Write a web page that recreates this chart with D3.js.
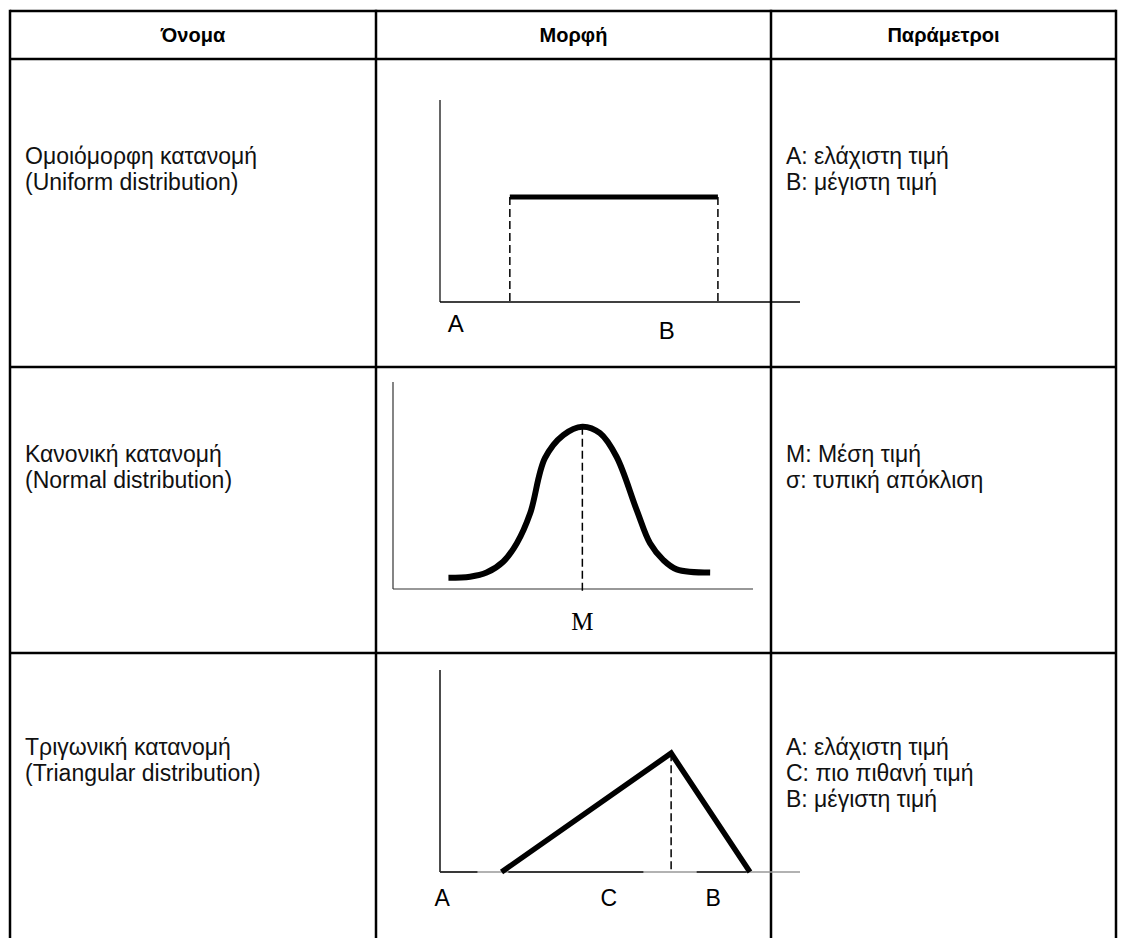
<!DOCTYPE html>
<html>
<head>
<meta charset="utf-8">
<script src="https://cdn.jsdelivr.net/npm/d3@7"></script>
<style>
  body { margin: 0; background: #fff; }
  svg { display: block; font-family: "Liberation Sans", Arial, sans-serif; }
</style>
</head>
<body>
<div id="chart"></div>
<script>
"use strict";

const WIDTH = 1126
const HEIGHT = 938

// table content
const headers = ["Όνομα", "Μορφή", "Παράμετροι"]
const rowNames = [
    ["Ομοιόμορφη κατανομή", "(Uniform distribution)"],
    ["Κανονική κατανομή", "(Normal distribution)"],
    ["Τριγωνική κατανομή", "(Triangular distribution)"],
]
const rowParams = [
    ["A: ελάχιστη τιμή", "B: μέγιστη τιμή"],
    ["M: Μέση τιμή", "σ: τυπική απόκλιση"],
    ["A: ελάχιστη τιμή", "C: πιο πιθανή τιμή", "B: μέγιστη τιμή"],
]

// uniform: [min, max] and density height (x in 0..10, y in 0..1)
const uniformRange = [1.94, 7.72]
const uniformHeight = 0.52
const uniformLabels = [{ t: "A", x: 0.44, dy: 0 }, { t: "B", x: 6.3, dy: 7 }]

// normal curve, points
const normalCurve = [
    [1.54, 0.055], [2.14, 0.06], [2.60, 0.08], [3.06, 0.133], [3.44, 0.223],
    [3.81, 0.369], [4.22, 0.638], [4.73, 0.751], [5.26, 0.792], [5.75, 0.76],
    [6.21, 0.645], [6.77, 0.385], [7.14, 0.223], [7.51, 0.141], [7.88, 0.096],
    [8.81, 0.08],
]
const normalMean = 5.26
const normalLabels = [{ t: "M", x: 5.26 }]

// triangular: A, C (peak) and B
const triangle = [[1.71, 0], [6.42, 0.588], [8.61, 0]]
const triangleAxisDark = [[0, 1.04], [1.90, 5.65], [7.13, 8.52]]
const triangleLabels = [{ t: "A", x: 0.06 }, { t: "C", x: 4.69 }, { t: "B", x: 7.59 }]

// layout
const colX = [10, 376, 771, 1116]
const rowY = [11, 59, 367, 653]

const svg = d3.select("#chart").append("svg")
    .attr("width", WIDTH)
    .attr("height", HEIGHT)
    .attr("viewBox", `0 0 ${WIDTH} ${HEIGHT}`)

svg.append("rect").attr("width", WIDTH).attr("height", HEIGHT).attr("fill", "#fff")

// grid of the table
const grid = svg.append("g").attr("stroke", "#000").attr("stroke-width", 2.5)
colX.forEach(x => {
    grid.append("line").attr("x1", x).attr("x2", x).attr("y1", rowY[0] - 1.25).attr("y2", HEIGHT)
})
rowY.forEach(y => {
    grid.append("line").attr("x1", colX[0]).attr("x2", colX[3]).attr("y1", y).attr("y2", y)
})

// header
svg.append("g").selectAll("text").data(headers).join("text")
    .attr("x", (d, i) => (colX[i] + colX[i + 1]) / 2)
    .attr("y", 42)
    .attr("text-anchor", "middle")
    .attr("font-weight", "bold")
    .attr("font-size", 20)
    .text(d => d)

// text cells
const firstBaseline = [164, 462, 755]
const LINE = 26

function textCell(lines, x, y0) {
    svg.append("g").selectAll("text").data(lines).join("text")
        .attr("x", x)
        .attr("y", (d, i) => y0 + i * LINE)
        .attr("font-size", 23)
        .attr("fill", "#111")
        .text(d => d)
}
rowNames.forEach((r, i) => textCell(r, 25, firstBaseline[i]))
rowParams.forEach((r, i) => textCell(r, 786, firstBaseline[i]))

// small chart panel: x 0..10, y 0..1
function panel(x0, x1, yBottom, yTop) {
    const x = d3.scaleLinear().domain([0, 10]).range([x0, x1])
    const y = d3.scaleLinear().domain([0, 1]).range([yBottom, yTop])
    return { x, y }
}

function dashed(g, x, y0, y1) {
    g.append("line")
        .attr("x1", x).attr("x2", x).attr("y1", y0).attr("y2", y1)
        .attr("stroke", "#000").attr("stroke-width", 1.5)
        .attr("stroke-dasharray", "8,4")
}

function labels(g, data, x, yBase, size, family) {
    g.selectAll("text.lbl").data(data).join("text")
        .attr("class", "lbl")
        .attr("x", d => x(d.x))
        .attr("y", d => yBase + (d.dy || 0))
        .attr("text-anchor", "middle")
        .attr("font-size", size)
        .attr("font-family", family || null)
        .text(d => d.t)
}

// ---- uniform
{
    const { x, y } = panel(440, 800, 302, 100)
    const g = svg.append("g")
    g.append("line").attr("x1", x(0)).attr("x2", x(0)).attr("y1", y(1)).attr("y2", y(0))
        .attr("stroke", "#333").attr("stroke-width", 1.5)
    g.append("line").attr("x1", x(0)).attr("x2", x(10)).attr("y1", y(0)).attr("y2", y(0))
        .attr("stroke", "#000").attr("stroke-width", 1.5)
    uniformRange.forEach(v => dashed(g, x(v), y(uniformHeight), y(0)))
    g.append("line")
        .attr("x1", x(uniformRange[0])).attr("x2", x(uniformRange[1]))
        .attr("y1", y(uniformHeight)).attr("y2", y(uniformHeight))
        .attr("stroke", "#000").attr("stroke-width", 5)
    labels(g, uniformLabels, x, 332, 24)
}

// ---- normal
{
    const { x, y } = panel(393, 753, 589, 384)
    const g = svg.append("g")
    g.append("line").attr("x1", x(0)).attr("x2", x(0)).attr("y1", y(1) - 2).attr("y2", y(0))
        .attr("stroke", "#333").attr("stroke-width", 1.2)
    g.append("line").attr("x1", x(0)).attr("x2", x(10)).attr("y1", y(0)).attr("y2", y(0))
        .attr("stroke", "#333").attr("stroke-width", 1.2)
    dashed(g, x(normalMean), y(0.792), y(0) + 4)
    g.append("path")
        .datum(normalCurve)
        .attr("d", d3.line().x(d => x(d[0])).y(d => y(d[1])).curve(d3.curveCatmullRom.alpha(0.5)))
        .attr("fill", "none")
        .attr("stroke", "#000")
        .attr("stroke-width", 6)
    labels(g, normalLabels, x, 630, 25, "'Liberation Serif', 'Times New Roman', serif")
}

// ---- triangular
{
    const { x, y } = panel(440, 800, 872, 670)
    const g = svg.append("g")
    g.append("line").attr("x1", x(0)).attr("x2", x(0)).attr("y1", y(1)).attr("y2", y(0))
        .attr("stroke", "#111").attr("stroke-width", 1.5)
    g.append("line").attr("x1", x(0)).attr("x2", x(10)).attr("y1", y(0)).attr("y2", y(0))
        .attr("stroke", "#999").attr("stroke-width", 1.5)
    triangleAxisDark.forEach(s => {
        g.append("line").attr("x1", x(s[0])).attr("x2", x(s[1])).attr("y1", y(0)).attr("y2", y(0))
            .attr("stroke", "#111").attr("stroke-width", 1.5)
    })
    dashed(g, x(triangle[1][0]), y(triangle[1][1]), y(0))
    g.append("path")
        .datum(triangle)
        .attr("d", d3.line().x(d => x(d[0])).y(d => y(d[1])))
        .attr("fill", "none")
        .attr("stroke", "#000")
        .attr("stroke-width", 5.5)
        .attr("stroke-linejoin", "miter")
    labels(g, triangleLabels, x, 906, 23)
}
</script>
</body>
</html>
